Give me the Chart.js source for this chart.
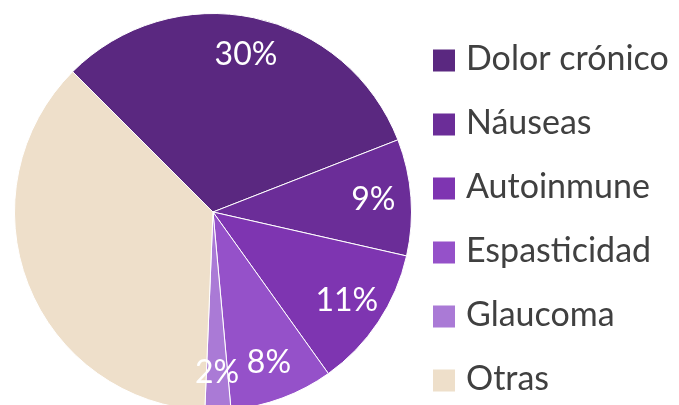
<!DOCTYPE html>
<html>
<head>
<meta charset="utf-8">
<title>Uso por condición</title>
<script src="https://cdn.jsdelivr.net/npm/chart.js@4"></script>
<style>
  html, body { margin: 0; padding: 0; background: #fff; overflow: hidden; }
  #wrap { width: 679px; height: 430px; }
</style>
</head>
<body>
<div id="wrap"><canvas id="pie" width="679" height="430"></canvas></div>
<script>
// ---------- DATA ----------
const labels = ["Dolor crónico", "Náuseas", "Autoinmune", "Espasticidad", "Glaucoma", "Otras"];
const values = [30, 9, 11, 8, 2, 35];
const showValue = [true, true, true, true, true, false];
const colors = ["#5a2880", "#6b2d98", "#7e35b1", "#9551c9", "#aa7ad6", "#eedfca"];

const FONT = "Lato, 'Open Sans', sans-serif";

// value labels inside the slices
const sliceLabels = {
  id: "sliceLabels",
  afterDatasetsDraw(chart) {
    const ctx = chart.ctx;
    const arcs = chart.getDatasetMeta(0).data;
    ctx.save();
    ctx.font = "32px " + FONT;
    ctx.fillStyle = "#ffffff";
    ctx.textAlign = "center";
    ctx.textBaseline = "middle";
    arcs.forEach((arc, i) => {
      if (!showValue[i]) return;
      const { x, y, startAngle, endAngle, outerRadius } = arc.getProps(["x", "y", "startAngle", "endAngle", "outerRadius"], true);
      const mid = (startAngle + endAngle) / 2;
      const r = outerRadius * 0.81;
      ctx.fillText(values[i] + "%", x + Math.cos(mid) * r, y + Math.sin(mid) * r);
    });
    ctx.restore();
  }
};

// legend on the right, drawn by hand so spacing matches
const sideLegend = {
  id: "sideLegend",
  afterDraw(chart) {
    const ctx = chart.ctx;
    const left = 433, top = 60.5, step = 64, box = 22;
    ctx.save();
    ctx.font = "34px " + FONT;
    ctx.textAlign = "left";
    ctx.textBaseline = "alphabetic";
    labels.forEach((lab, i) => {
      const cy = top + i * step;
      ctx.fillStyle = colors[i];
      ctx.fillRect(left, cy - box / 2, box, box);
      ctx.fillStyle = "#404040";
      ctx.fillText(lab, left + 33, cy + 9);
    });
    ctx.restore();
  }
};

new Chart(document.getElementById("pie"), {
  type: "pie",
  data: {
    labels: labels,
    datasets: [{
      data: values,
      backgroundColor: colors,
      borderColor: "#ffffff",
      borderWidth: 1
    }]
  },
  options: {
    responsive: false,
    animation: false,
    devicePixelRatio: 1,
    rotation: -45,
    layout: { padding: { left: 14, top: 13, right: 267, bottom: 19 } },
    plugins: {
      legend: { display: false },
      tooltip: { enabled: false }
    }
  },
  plugins: [sliceLabels, sideLegend]
});
</script>
</body>
</html>
